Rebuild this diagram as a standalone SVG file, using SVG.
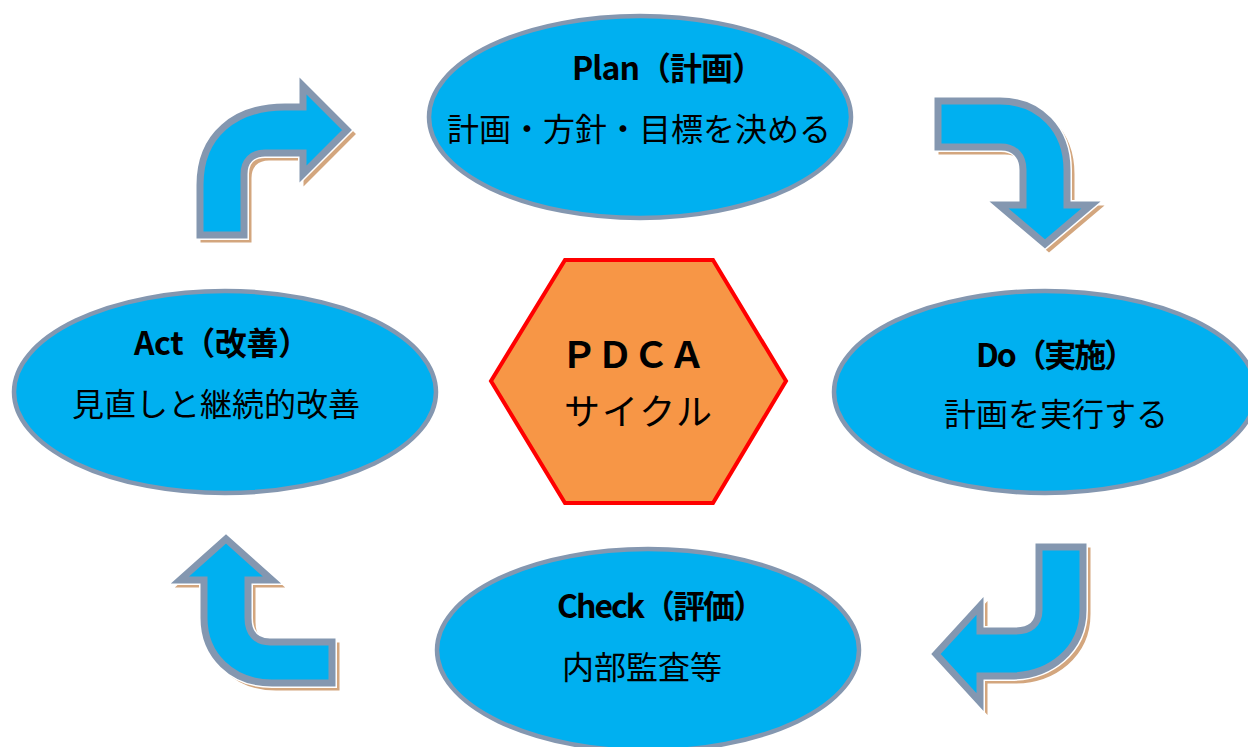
<svg xmlns="http://www.w3.org/2000/svg" width="1248" height="747" viewBox="0 0 1248 747">
<style>
.ell{fill:#00B0F0;stroke:#8497B0;stroke-width:4.5}
.t1{font-family:"Noto Sans CJK JP","Noto Sans",sans-serif;font-size:32px;font-weight:700;fill:#000}
.t2{font-family:"Noto Sans CJK JP","Noto Sans",sans-serif;font-size:32px;font-weight:400;fill:#000}
.hx{font-family:"Liberation Serif","Noto Sans CJK JP",serif;font-size:36px;fill:#000}
.shadow{fill:none;stroke:#D3A67E;stroke-width:7;stroke-linejoin:miter}
.halo{fill:none;stroke:#FFFFFF;stroke-width:10;stroke-linejoin:miter}
.arr{fill:#00B0F0;stroke:#8497B0;stroke-width:7;stroke-linejoin:miter}
</style>
<defs>
<path id="a1" d="M200,235 L200,185 C200,135 235,107 285,107 L303,107 L303,86 L347,130 L303,174 L303,153 L265,153 C252,153 244,161 244,174 L244,235 Z"/>
<path id="a2" d="M938,101 L1000,101 C1040,101 1067,130 1067,170 L1067,205 L1091,205 L1045,244 L999,205 L1023,205 L1023,170 C1023,156 1015,147 1001,147 L938,147 Z"/>
<path id="a3" d="M1039,547 L1083,547 L1083,610 C1083,650 1050,676 1010,676 L980,676 L980,702 L936,654 L980,606 L980,631 L1015,631 C1030,631 1039,624 1039,610 Z"/>
<path id="a4" d="M332,642 L332,683 L272,683 C232,683 204,655 204,618 L204,580 L180,580 L226,539 L272,580 L248,580 L248,618 C248,633 256,642 270,642 Z"/>
</defs>
<g id="connectors">
<g id="arrow-act-plan">
<use href="#a1" class="shadow" transform="translate(4,4)"/>
<use href="#a1" class="halo"/>
<use href="#a1" class="arr"/>
</g>
<g id="arrow-plan-do">
<use href="#a2" class="shadow" transform="translate(4,4)"/>
<use href="#a2" class="halo"/>
<use href="#a2" class="arr"/>
</g>
<g id="arrow-do-check">
<use href="#a3" class="shadow" transform="translate(4,4)"/>
<use href="#a3" class="halo"/>
<use href="#a3" class="arr"/>
</g>
<g id="arrow-check-act">
<use href="#a4" class="shadow" transform="translate(4,4)"/>
<use href="#a4" class="halo"/>
<use href="#a4" class="arr"/>
</g>
</g>
<g id="plan">
<ellipse class="ell" cx="640" cy="117" rx="211" ry="101"/>
<text class="t1" x="572" y="80" textLength="192" lengthAdjust="spacing">Plan（計画）</text>
<text class="t2" x="447" y="141" textLength="384" lengthAdjust="spacing">計画・方針・目標を決める</text>
</g>
<g id="do">
<ellipse class="ell" cx="1045" cy="392" rx="211" ry="101"/>
<text class="t1" x="976" y="367" textLength="160" lengthAdjust="spacing">Do（実施）</text>
<text class="t2" x="944" y="426" textLength="224" lengthAdjust="spacing">計画を実行する</text>
</g>
<g id="check">
<ellipse class="ell" cx="648" cy="650" rx="211" ry="101"/>
<text class="t1" x="557" y="618" textLength="208" lengthAdjust="spacing">Check（評価）</text>
<text class="t2" x="562" y="679" textLength="160" lengthAdjust="spacing">内部監査等</text>
</g>
<g id="act">
<ellipse class="ell" cx="225" cy="392" rx="211" ry="101"/>
<text class="t1" x="134" y="355" textLength="176" lengthAdjust="spacing">Act（改善）</text>
<text class="t2" x="72" y="416" textLength="288" lengthAdjust="spacing">見直しと継続的改善</text>
</g>
<g id="pdca">
<polygon points="491,381 565,260 713,260 786,381 713,503 565,503" fill="#F79646" stroke="#FF0000" stroke-width="4"/>
<text class="hx" x="561" y="368" textLength="144" lengthAdjust="spacing" font-weight="700">ＰＤＣＡ</text>
<text class="hx" x="564" y="425" textLength="148" lengthAdjust="spacing">サイクル</text>
</g>
</svg>
